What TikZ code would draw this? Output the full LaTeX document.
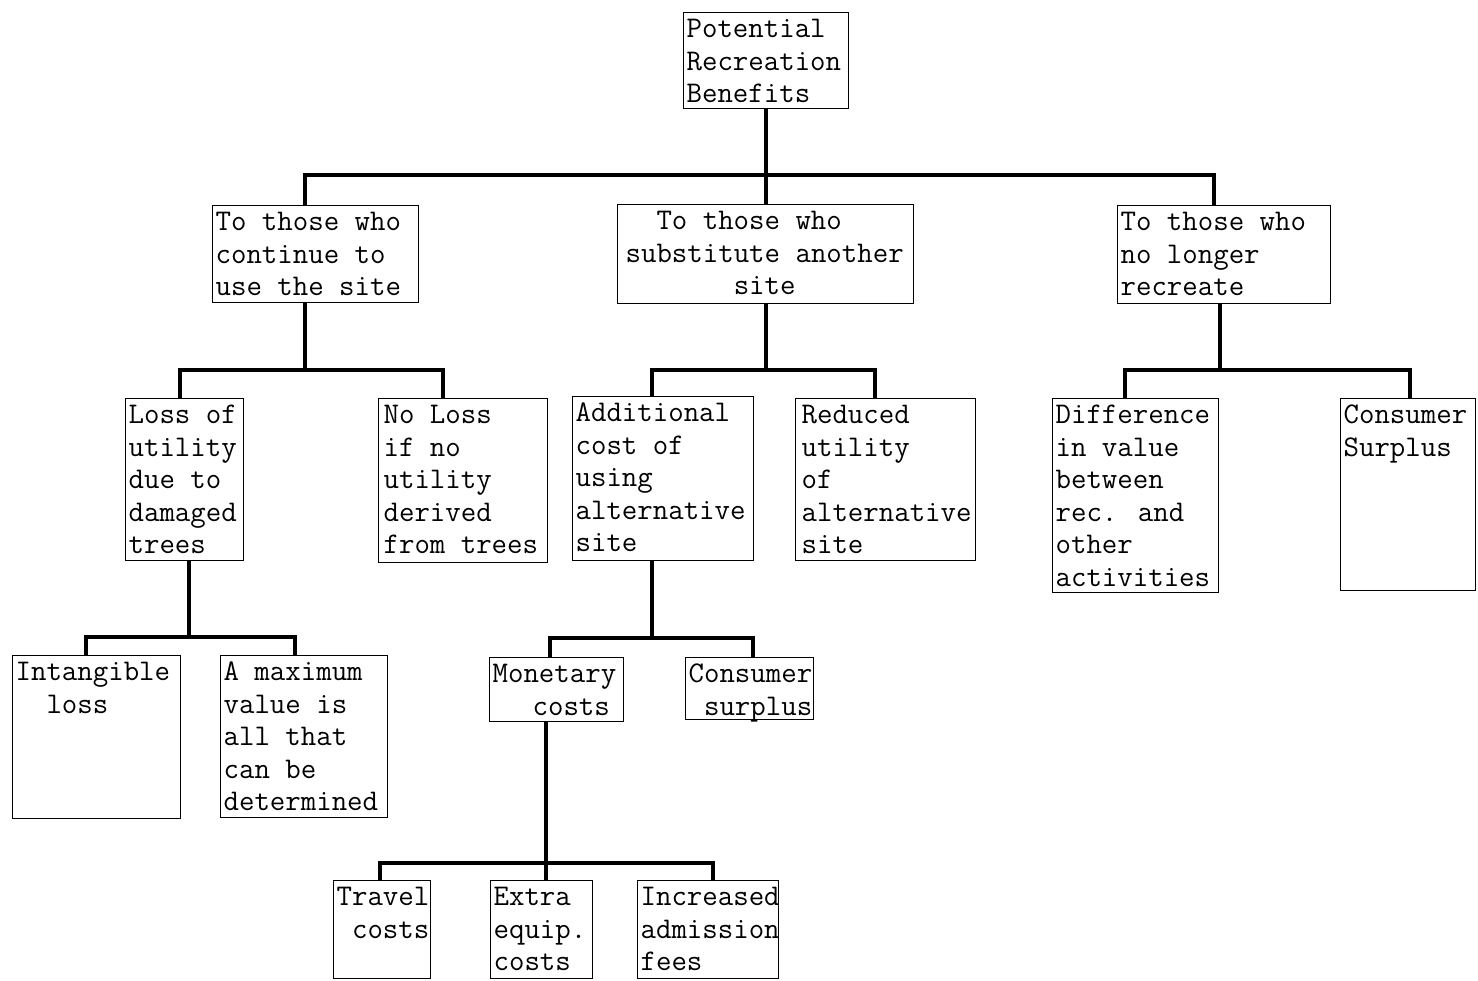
\documentclass[tikz,border=0pt]{standalone}
\usepackage{tikz}

% A typed box: name, left, top, right, bottom (in pt, y downwards), text
\newcommand\chartbox[6]{%
  \node[box] (#1) at (#2,#3)
    {\parbox[t][\dimexpr #5pt-#3pt-4pt\relax][t]{\dimexpr #4pt-#2pt-6pt\relax}{\raggedright\strut #6}};}

\tikzset{
  box/.style={draw, line width=1.2pt, inner xsep=3pt, inner ysep=2pt,
    anchor=north west, font={\fontsize{30}{32.6}\selectfont\ttfamily}},
  conn/.style={line width=3.6pt},
}

\begin{document}
\begin{tikzpicture}[x=1pt, y=-1pt]
\useasboundingbox (0,0) rectangle (1478,980);

% ---- boxes ----
\chartbox{R}{683}{12}{848}{108}{Potential\\Recreation\\Benefits}
\chartbox{A}{212}{205}{418}{302}{To those who\\continue to\\use the site}
\chartbox{B}{617}{204}{913}{303}{\hspace*{5pt}~~To those who\\\hspace*{5pt}substitute another\\\hspace*{5pt}~~~~~~~site}
\chartbox{C}{1117}{205}{1330}{303}{To those who\\no longer\\recreate}

\chartbox{A1}{125}{398}{243}{560}{Loss of\\utility\\due to\\damaged\\trees}
\chartbox{A2}{378}{398}{547}{562}{\hspace*{2pt}No Loss\\\hspace*{2pt}if no\\\hspace*{2pt}utility\\\hspace*{2pt}derived\\\hspace*{2pt}from trees}
\chartbox{B1}{572}{396}{753}{560}{Additional\\cost of\\using\\alternative\\site}
\chartbox{B2}{795}{398}{975}{560}{\hspace*{3pt}Reduced\\\hspace*{3pt}utility\\\hspace*{3pt}of\\\hspace*{3pt}alternative\\\hspace*{3pt}site}
\chartbox{C1}{1052}{398}{1218}{592}{Difference\\in value\\between\\rec. and\\other\\activities}
\chartbox{C2}{1340}{398}{1475}{590}{Consumer\\Surplus}

\chartbox{A1a}{12}{655}{180}{818}{Intangible\\~~loss}
\chartbox{A1b}{220}{655}{387}{817}{A maximum\\value is\\all that\\can be\\determined}
\chartbox{B1a}{489}{657}{623}{721}{Monetary\\\hspace*{40pt}costs}
\chartbox{B1b}{685}{657}{813}{719}{Consumer\\~surplus}

\chartbox{T1}{333}{880}{430}{978}{Travel\\~costs}
\chartbox{T2}{490}{880}{592}{978}{Extra\\equip.\\costs}
\chartbox{T3}{637}{880}{778}{978}{Increased\\admission\\fees}

% ---- junctions on the branch bars ----
\coordinate (j0)  at (766,175);
\coordinate (j0a) at (305,175);
\coordinate (j0c) at (1214,175);

\coordinate (ja)  at (305,370);
\coordinate (ja1) at (180,370);
\coordinate (ja2) at (443,370);

\coordinate (jb)  at (766,370);
\coordinate (jb1) at (652,370);
\coordinate (jb2) at (875,370);

\coordinate (jc)  at (1220,370);
\coordinate (jc1) at (1125,370);
\coordinate (jc2) at (1410,370);

\coordinate (jd)  at (189,637);
\coordinate (jd1) at (86,637);
\coordinate (jd2) at (295,637);

\coordinate (je)  at (652,638);
\coordinate (je1) at (550,638);
\coordinate (je2) at (753,638);

\coordinate (jf)  at (546,863);
\coordinate (jf1) at (380,863);
\coordinate (jf3) at (713,863);

% ---- connectors ----
\draw[conn] (R.south -| j0) -- (j0) -- (B.north -| j0);
\draw[conn] (A.north -| j0a) -- (j0a) -- (j0c) -- (C.north -| j0c);

\draw[conn] (A.south -| ja) -- (ja);
\draw[conn] (A1.north -| ja1) -- (ja1) -- (ja2) -- (A2.north -| ja2);

\draw[conn] (B.south -| jb) -- (jb);
\draw[conn] (B1.north -| jb1) -- (jb1) -- (jb2) -- (B2.north -| jb2);

\draw[conn] (C.south -| jc) -- (jc);
\draw[conn] (C1.north -| jc1) -- (jc1) -- (jc2) -- (C2.north -| jc2);

\draw[conn] (A1.south -| jd) -- (jd);
\draw[conn] (A1a.north -| jd1) -- (jd1) -- (jd2) -- (A1b.north -| jd2);

\draw[conn] (B1.south -| je) -- (je);
\draw[conn] (B1a.north -| je1) -- (je1) -- (je2) -- (B1b.north -| je2);

\draw[conn] (B1a.south -| jf) -- (jf) -- (T2.north -| jf);
\draw[conn] (T1.north -| jf1) -- (jf1) -- (jf3) -- (T3.north -| jf3);
\end{tikzpicture}
\end{document}
